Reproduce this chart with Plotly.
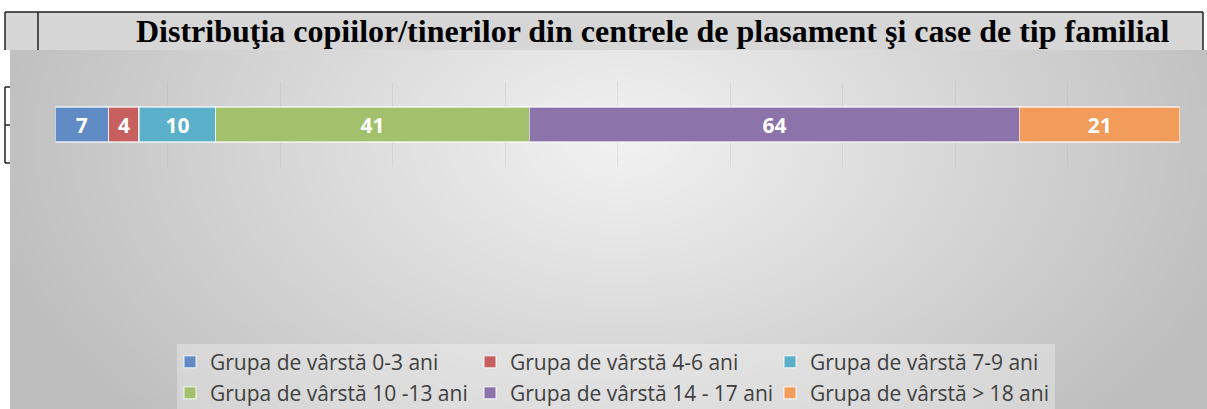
import base64, struct, zlib
import numpy as np
import plotly.graph_objects as go

# ---------------- data ----------------
categories = ["Distribuţia"]
series_names = [
    "Grupa de vârstă 0-3 ani",
    "Grupa de vârstă 4-6 ani",
    "Grupa de vârstă 7-9 ani",
    "Grupa de vârstă 10 -13 ani",
    "Grupa de vârstă 14 - 17 ani",
    "Grupa de vârstă > 18 ani",
]
series_values = [7, 4, 10, 41, 64, 21]
series_colors = ["#5f8ac3", "#c65f5d", "#5ab0c9", "#a3c16c", "#8c74ab", "#f29c5b"]
title_text = "Distribuţia copiilor/tinerilor din centrele de plasament şi case de tip familial"

# ---------------- geometry (pixels) ----------------
W, H = 1207, 409
L, R, T, B = 55, 1180, 82, 167


def px2x(px):
    return (px - L) / (R - L)


def py2y(py):
    return (B - py) / (B - T)


# ---------------- background radial gradient image ----------------
def make_png(w, h, rows):
    raw = b"".join(b"\x00" + bytes(r) for r in rows)

    def chunk(tag, data):
        return (struct.pack(">I", len(data)) + tag + data +
                struct.pack(">I", zlib.crc32(tag + data) & 0xFFFFFFFF))

    return (b"\x89PNG\r\n\x1a\n" +
            chunk(b"IHDR", struct.pack(">IIBBBBB", w, h, 8, 0, 0, 0, 0)) +
            chunk(b"IDAT", zlib.compress(raw, 9)) +
            chunk(b"IEND", b""))


bx0, by0, bx1, by1 = 10, 50, 1207, 409
iw, ih = 300, 90
xs = bx0 + (np.arange(iw) + 0.5) / iw * (bx1 - bx0)
ys = by0 + (np.arange(ih) + 0.5) / ih * (by1 - by0)
X, Y = np.meshgrid(xs, ys)
d = np.sqrt(((X - 620) / 650) ** 2 + ((Y - 140) / 420) ** 2)
d = np.clip(d, 0, 1)
vals = (242 - 52 * d).astype(np.uint8)
png = make_png(iw, ih, vals.tolist())
bg_uri = "data:image/png;base64," + base64.b64encode(png).decode()

# ---------------- figure ----------------
fig = go.Figure()
for i, (name, v, c) in enumerate(zip(series_names, series_values, series_colors)):
    fig.add_trace(go.Bar(
        y=categories, x=[v], name=name, orientation="h",
        marker=dict(color=c, line=dict(color="rgba(255,255,255,0.6)", width=1.5)),
        text=[v], texttemplate="%{text}", textposition="inside",
        insidetextanchor="middle", constraintext="none",
        textfont=dict(family="Open Sans", size=21, color="white", weight="bold"),
        legend="legend" if i < 3 else "legend2",
        hoverinfo="skip",
    ))

shapes = []
# title band
shapes.append(dict(type="rect", xref="paper", yref="paper",
                   x0=px2x(5), x1=px2x(1203), y0=py2y(50), y1=py2y(12),
                   fillcolor="#d6d6d6", line=dict(width=0), layer="below"))
for (xa, ya, xb, yb) in [(5, 12, 1203, 12), (5, 12, 5, 50), (1203, 12, 1203, 50),
                         (38, 12, 38, 50), (5, 87, 5, 163), (5, 87, 10, 87),
                         (5, 125, 10, 125), (5, 163, 10, 163)]:
    shapes.append(dict(type="line", xref="paper", yref="paper",
                       x0=px2x(xa), x1=px2x(xb), y0=py2y(ya), y1=py2y(yb),
                       line=dict(color="#202020", width=1.5)))
# legend box
shapes.append(dict(type="rect", xref="paper", yref="paper",
                   x0=px2x(177), x1=px2x(1055), y0=py2y(409), y1=py2y(344),
                   fillcolor="rgba(255,255,255,0.3)", line=dict(width=0), layer="below"))

legend_common = dict(orientation="h", bgcolor="rgba(0,0,0,0)", borderwidth=0,
                     font=dict(family="Open Sans", size=21, color="#404040"),
                     entrywidth=255, entrywidthmode="pixels",
                     xref="paper", yref="container", xanchor="left", yanchor="middle",
                     traceorder="normal", itemclick=False, itemdoubleclick=False)

fig.update_layout(
    width=W, height=H,
    margin=dict(l=L, r=W - R, t=T, b=H - B, autoexpand=False),
    paper_bgcolor="white", plot_bgcolor="rgba(0,0,0,0)",
    barmode="stack", barnorm="percent", bargap=0.59,
    showlegend=True,
    legend=dict(legend_common, x=px2x(170), y=1 - 362 / H),
    legend2=dict(legend_common, x=px2x(170), y=1 - 393 / H),
    xaxis=dict(range=[0, 100], dtick=10, showgrid=True,
               gridcolor="rgba(170,170,170,0.25)", gridwidth=1,
               showticklabels=False, zeroline=False, showline=False, fixedrange=True),
    yaxis=dict(showticklabels=False, showgrid=False, zeroline=False, showline=False,
               fixedrange=True),
    shapes=shapes,
    images=[dict(source=bg_uri, xref="paper", yref="paper",
                 x=px2x(bx0), y=py2y(by0), sizex=(bx1 - bx0) / (R - L),
                 sizey=(by1 - by0) / (B - T), sizing="stretch",
                 xanchor="left", yanchor="top", layer="below")],
    annotations=[dict(text="<b>" + title_text + "</b>", xref="paper", yref="paper",
                      x=px2x(652.5), y=py2y(31), xanchor="center", yanchor="middle",
                      showarrow=False,
                      font=dict(family="Liberation Serif", size=32, color="black"))],
)

fig.write_html("out.html", config={"displayModeBar": False},
               post_script="document.body.style.margin='0';")
